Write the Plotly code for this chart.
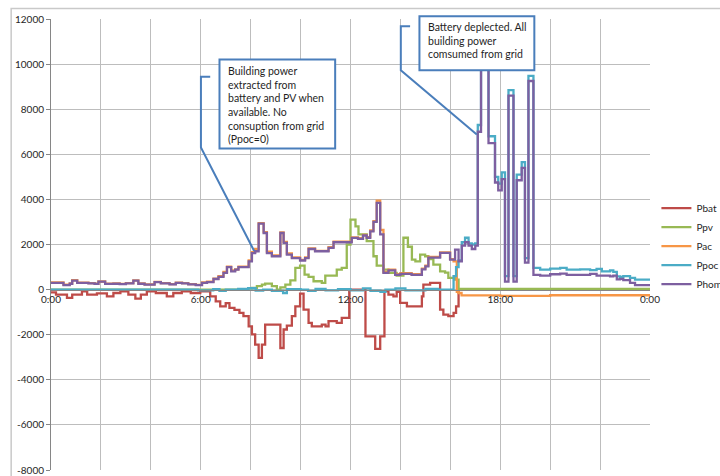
import plotly.graph_objects as go

# ---- data: step series, change points in hours of the day and power in W ----
pbat_t = [0, 0.2, 0.64, 0.85, 1.24, 1.45, 1.84, 2.24, 2.5, 2.78, 3.1, 3.38, 3.6, 3.84, 4.2,
          4.64, 4.9, 5.24, 5.6, 5.98, 6.38, 6.6, 6.78, 7.0, 7.15, 7.35, 7.55, 7.71, 7.92, 8.05,
          8.18, 8.32, 8.45, 8.58, 9.19, 9.32, 9.45, 9.65, 9.79, 9.98, 10.12, 10.32, 10.45, 10.85,
          11.0, 11.12, 11.45, 11.65, 11.95, 12.6, 12.99, 13.19, 13.36, 13.52, 13.72, 13.85, 13.99,
          14.26, 14.86, 14.92, 15.19, 15.59, 15.72, 15.92, 16.13, 16.23, 16.33]
pbat_w = [-120, -220, -370, -220, -75, -220, -170, -300, -150, -75, -220, -400, -220, -75, -150,
          -300, -150, -75, -150, -75, -300, -520, -740, -600, -810, -900, -1030, -1180, -1630, -1990,
          -2440, -3030, -2440, -1550, -2590, -1770, -1600, -1180, -740, -180, -890, -1480, -1630, -1550,
          -1630, -1400, -1480, -1250, 0, -2070, -2630, -2070, -70, -220, -300, -100, -590,
          -740, -300, 220, 300, -890, -1110, -1180, -1030, -740, 0]

ppv_t = [0, 7.9, 8.05, 8.25, 8.45, 8.58, 8.85, 9.05, 9.19, 9.39, 9.59, 9.79, 9.98, 10.16, 10.32,
         10.52, 10.85, 10.99, 11.25, 11.45, 11.65, 11.85, 12.0, 12.2, 12.32, 12.65, 12.92, 13.05,
         13.32, 13.52, 13.85, 14.12, 14.3, 14.46, 14.6, 14.79, 14.99, 15.12, 15.32, 15.59, 15.79,
         15.92, 16.19, 16.33]
ppv_w = [0, 50, 75, 150, 220, 265, 150, 0, 100, 220, 410, 960, 1060, 665, 560,
         370, 300, 620, 620, 890, 960, 2000, 3100, 2800, 2450, 2150, 1480, 1060,
         890, 740, 620, 2300, 1900, 1330, 1250, 1550, 1480, 1350, 1110, 810, 750,
         520, 440, 30]

phome_t = [0, 0.5, 0.75, 0.85, 1.05, 1.5, 1.75, 1.9, 2.17, 2.5, 2.75, 3.0, 3.3, 3.5, 3.75, 4.15,
           4.4, 4.75, 5.0, 5.25, 5.5, 5.8, 6.05, 6.25, 6.51, 6.71, 6.91, 7.05, 7.22, 7.38, 7.51,
           7.92, 8.05, 8.18, 8.32, 8.52, 8.65, 8.85, 9.19, 9.32, 9.45, 9.65, 9.98, 10.18, 10.32,
           10.58, 11.12, 11.32, 12.05, 12.3, 12.5, 12.65, 12.79, 12.92, 13.05, 13.19, 13.32, 13.52,
           13.79, 14.0, 14.45, 14.86, 15.0, 15.12, 15.59, 15.99, 16.19, 16.33, 16.46, 16.59, 16.73,
           16.86, 17.0, 17.1, 17.23, 17.53, 17.79, 17.92, 18.06, 18.19, 18.33, 18.53, 18.66, 18.86,
           18.99, 19.13, 19.33, 19.6, 20.0, 20.4, 20.66, 21.2, 21.6, 21.86, 22.4, 22.53, 22.67,
           22.8, 22.93, 23.2, 23.4]
phome_w = [300, 200, 260, 400, 300, 280, 250, 350, 250, 260, 240, 280, 400, 260, 220, 330,
           280, 230, 300, 280, 230, 200, 300, 330, 470, 560, 740, 1000, 810, 890, 1000,
           1250, 1620, 1700, 2925, 2510, 1620, 1480, 2510, 2070, 1550, 1400, 1290, 1400, 1800,
           1700, 1850, 2100, 2290, 2250, 2400, 2300, 2580, 3000, 3850, 2450, 740, 850,
           650, 700, 650, 900, 1030, 1420, 1630, 1330, 1770, 1250, 1950, 2100, 1950,
           1800, 1950, 7000, 11500, 6500, 4750, 4400, 4900, 350, 8600, 350, 4850, 5400,
           1200, 9250, 650, 620, 680, 710, 650, 650, 700, 620, 590, 620, 450,
           480, 420, 300, 200]

pac_t = [0, 0.5, 0.75, 0.85, 1.05, 1.5, 1.75, 1.9, 2.17, 2.5, 2.75, 3.0, 3.3, 3.5, 3.75, 4.15,
         4.4, 4.75, 5.0, 5.25, 5.5, 5.8, 6.05, 6.25, 6.51, 6.71, 6.91, 7.05, 7.22, 7.38, 7.51,
         7.92, 8.05, 8.18, 8.32, 8.52, 8.65, 8.85, 9.19, 9.32, 9.45, 9.65, 9.98, 10.18, 10.32,
         10.58, 11.12, 11.32, 12.05, 12.3, 12.5, 12.65, 12.79, 12.92, 13.05, 13.19, 13.32, 13.52,
         13.79, 14.0, 14.45, 14.86, 15.0, 15.12, 15.59, 15.99, 16.13, 16.26, 16.33, 16.45, 18.0,
         20.0]
pac_w = [320, 220, 280, 420, 310, 290, 260, 360, 260, 270, 250, 290, 410, 270, 230, 340,
         290, 240, 310, 290, 240, 210, 320, 350, 490, 600, 780, 1020, 850, 900, 1020,
         1300, 1660, 1800, 2950, 2550, 1680, 1520, 2540, 2120, 1600, 1430, 1320, 1430, 1830,
         1720, 1880, 2130, 2320, 2280, 2430, 2330, 2620, 3040, 3950, 2650, 780, 880,
         680, 730, 680, 930, 1060, 1450, 1650, 1350, 1250, -100, -150, -260, -280,
         -250]

ppoc_t = [0, 5.9, 6.5, 6.75, 7.0, 7.5, 7.9, 8.2, 8.5, 8.85, 9.3, 9.45, 10.0, 10.3, 10.6, 11.0,
          11.5, 12.0, 12.5, 12.8, 13.2, 13.4, 13.8, 14.2, 15.0, 15.5, 16.13, 16.23, 16.33, 16.46,
          16.59, 16.73, 16.86, 16.99, 17.1, 17.23, 17.53, 17.79, 17.92, 18.06, 18.19, 18.33, 18.53,
          18.66, 18.86, 18.99, 19.13, 19.33, 19.6, 20.0, 20.4, 20.66, 21.2, 21.6, 21.86, 22.07,
          22.4, 22.53, 22.67, 22.8, 22.93, 23.2, 23.4]
ppoc_w = [0, -30, 20, -60, 0, 30, 60, -40, 0, -60, -150, 20, 0, -60, 30, -30,
          20, -30, 50, -50, -100, 0, 50, -30, 30, 0, 600, 1000, 1300, 2100,
          2300, 2050, 2000, 2050, 7300, 11700, 6800, 5000, 4700, 5200, 600, 8850, 600,
          5100, 5650, 1400, 9480, 960, 890, 930, 960, 890, 900, 860, 920, 810,
          850, 790, 590, 560, 600, 520, 440]

series = [
    ("Pbat", pbat_t, pbat_w, "#BE4B48"),
    ("Ppv", ppv_t, ppv_w, "#98B954"),
    ("Pac", pac_t, pac_w, "#F79646"),
    ("Ppoc", ppoc_t, ppoc_w, "#4BACC6"),
    ("Phome", phome_t, phome_w, "#7D5FA0"),
]

x_tick_hours = [0, 2, 4, 6, 8, 10, 12, 14, 16, 18, 20, 22, 24]
x_tick_labels = ["0:00", "", "", "6:00", "", "", "12:00", "", "", "18:00", "", "", "0:00"]
y_tick_values = [-8000, -6000, -4000, -2000, 0, 2000, 4000, 6000, 8000, 10000, 12000]
y_tick_labels = ["-8000", "-6000", "-4000", "-2000", "0", "2000", "4000", "6000", "8000",
                 "10000", "12000"]

note_pv = ("Building power<br>extracted from<br>battery and PV when<br>available. No<br>"
           "consuption from grid<br>(Ppoc=0)")
note_grid = "Battery deplected. All<br>building power<br>comsumed from grid"

FONT = "Lato, Open Sans, sans-serif"
GRID = "#bdbdbd"
AXIS = "#868686"
CALLOUT = "#4A7EBB"

fig = go.Figure()
for name, t, w, color in series:
    # hold the last reading until midnight
    fig.add_trace(go.Scatter(
        x=list(t) + [24], y=list(w) + [w[-1]], name=name, mode="lines",
        line=dict(color=color, width=2.3, shape="hv"),
    ))

# y = 0 sits at this fraction of the plot height, where the time axis crosses
zero_frac = (0 - y_tick_values[0]) / (y_tick_values[-1] - y_tick_values[0])

fig.update_layout(
    width=720, height=476,
    margin=dict(l=51, r=70, t=19, b=6, autoexpand=False),
    paper_bgcolor="white", plot_bgcolor="white",
    font=dict(family=FONT, size=10, color="#262626"),
    showlegend=True,
    legend=dict(x=1.0107, y=0.613, xanchor="left", yanchor="top",
                font=dict(family=FONT, size=10, color="#262626"),
                itemwidth=30, tracegroupgap=0, bgcolor="rgba(0,0,0,0)"),
    xaxis=dict(range=[0, 24], tickmode="array", tickvals=x_tick_hours, ticktext=x_tick_labels,
               showgrid=True, gridcolor=GRID, gridwidth=1, zeroline=False,
               showline=True, linecolor=AXIS, linewidth=1, ticks="",
               anchor="free", position=zero_frac, tickfont=dict(size=10)),
    yaxis=dict(range=[y_tick_values[0], y_tick_values[-1]], tickmode="array",
               tickvals=y_tick_values, ticktext=y_tick_labels,
               showgrid=True, gridcolor=GRID, gridwidth=1, zeroline=False,
               showline=True, linecolor=AXIS, linewidth=1, ticks="outside", ticklen=4,
               tickcolor=AXIS, tickfont=dict(size=10), domain=[0, 1]),
)

# outer chart frame
fig.add_shape(type="rect", xref="paper", yref="paper", x0=-0.0665, y0=-0.2, x1=1.3, y1=1.0235,
              line=dict(color="#c9c9c9", width=1.5), fillcolor="rgba(0,0,0,0)", layer="below")

# callout: battery + PV phase
fig.add_shape(type="path", xref="paper", yref="paper",
              path="M0.2658,0.8718 L0.2503,0.8718 L0.2503,0.7151 L0.3392,0.4856",
              line=dict(color=CALLOUT, width=2), layer="above")
fig.add_shape(type="rect", xref="paper", yref="paper", x0=0.2813, y0=0.7129, x1=0.4744, y1=0.9102,
              line=dict(color=CALLOUT, width=2), fillcolor="white", layer="above")
fig.add_annotation(xref="paper", yref="paper", x=0.2925, y=0.903, xanchor="left", yanchor="top",
                   text=note_pv, showarrow=False, align="left",
                   font=dict(family=FONT, size=10.5, color="#1f1f1f"))

# callout: grid phase
fig.add_shape(type="path", xref="paper", yref="paper",
              path="M0.5995,0.9840 L0.5840,0.9840 L0.5840,0.8865 L0.7108,0.7439",
              line=dict(color=CALLOUT, width=2), layer="above")
fig.add_shape(type="rect", xref="paper", yref="paper", x0=0.6151, y0=0.8865, x1=0.8069, y1=1.0062,
              line=dict(color=CALLOUT, width=2), fillcolor="white", layer="above")
fig.add_annotation(xref="paper", yref="paper", x=0.6262, y=0.999, xanchor="left", yanchor="top",
                   text=note_grid, showarrow=False, align="left",
                   font=dict(family=FONT, size=10.5, color="#1f1f1f"))

fig.write_html("out.html")
